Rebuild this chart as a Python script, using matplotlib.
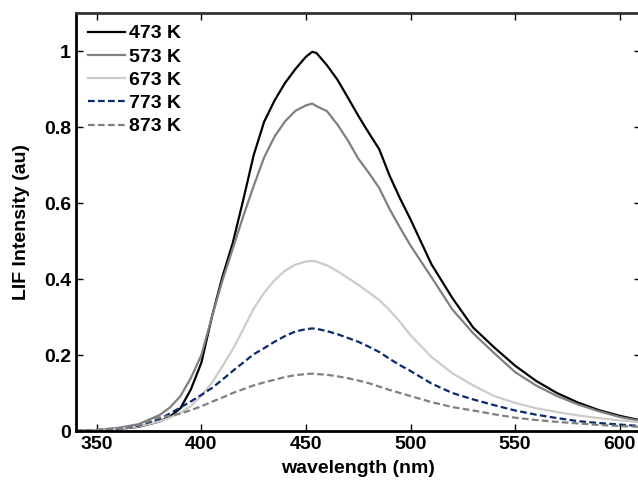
import numpy as np
import matplotlib.pyplot as plt

plt.rcParams['font.family'] = ['Liberation Sans', 'DejaVu Sans']
plt.rcParams['font.weight'] = 'bold'
plt.rcParams['font.size'] = 14

# wavelength grid (nm) and LIF spectra
wl = [340, 350, 360, 370, 380, 385, 390, 395, 400, 405, 410, 415, 420, 425, 430,
      435, 440, 445, 450, 453, 455, 460, 465, 470, 475, 480, 485, 490, 495, 500,
      510, 520, 530, 540, 550, 560, 570, 580, 590, 600, 610]

t473 = [0.0, 0.002, 0.005, 0.011, 0.025, 0.038, 0.06, 0.11, 0.18, 0.30, 0.405, 0.495, 0.608, 0.726, 0.814,
        0.87, 0.916, 0.953, 0.985, 0.998, 0.995, 0.963, 0.925, 0.878, 0.83, 0.785, 0.742, 0.672, 0.612, 0.557,
        0.439, 0.35, 0.272, 0.22, 0.172, 0.132, 0.1, 0.075, 0.055, 0.04, 0.028]
t573 = [0.0, 0.003, 0.008, 0.018, 0.042, 0.062, 0.092, 0.14, 0.20, 0.30, 0.395, 0.48, 0.565, 0.645, 0.72,
        0.775, 0.815, 0.843, 0.857, 0.862, 0.855, 0.842, 0.807, 0.765, 0.717, 0.68, 0.64, 0.584, 0.535, 0.488,
        0.405, 0.32, 0.257, 0.205, 0.155, 0.12, 0.092, 0.07, 0.052, 0.037, 0.026]
t673 = [0.0, 0.002, 0.005, 0.012, 0.025, 0.035, 0.048, 0.066, 0.093, 0.127, 0.17, 0.215, 0.268, 0.322, 0.364,
        0.397, 0.422, 0.438, 0.446, 0.448, 0.446, 0.436, 0.421, 0.403, 0.385, 0.365, 0.345, 0.318, 0.287, 0.252,
        0.195, 0.152, 0.12, 0.092, 0.074, 0.06, 0.05, 0.041, 0.034, 0.028, 0.023]
t773 = [0.0, 0.002, 0.006, 0.014, 0.032, 0.046, 0.062, 0.078, 0.095, 0.113, 0.135, 0.158, 0.18, 0.202, 0.218,
        0.235, 0.25, 0.262, 0.268, 0.27, 0.269, 0.263, 0.255, 0.245, 0.235, 0.222, 0.208, 0.19, 0.173, 0.158,
        0.125, 0.10, 0.083, 0.068, 0.054, 0.043, 0.034, 0.026, 0.021, 0.017, 0.013]
t873 = [0.0, 0.003, 0.007, 0.015, 0.036, 0.04, 0.046, 0.055, 0.065, 0.077, 0.088, 0.10, 0.11, 0.12, 0.128,
        0.135, 0.142, 0.147, 0.15, 0.151, 0.15, 0.148, 0.144, 0.139, 0.133, 0.126, 0.117, 0.108, 0.10, 0.092,
        0.076, 0.063, 0.054, 0.044, 0.035, 0.029, 0.024, 0.02, 0.016, 0.013, 0.011]

labels = ['473 K', '573 K', '673 K', '773 K', '873 K']

fig = plt.figure(figsize=(6.38, 4.84), dpi=100)
ax = fig.add_axes([0.119, 0.1095, 0.885, 0.8635])

ax.plot(wl, t473, color='black', lw=1.6, label=labels[0])
ax.plot(wl, t573, color='#808080', lw=1.6, label=labels[1])
ax.plot(wl, t673, color='#cccccc', lw=1.6, label=labels[2])
ax.plot(wl, t773, color='#0a2a6e', lw=1.6, ls=(0, (3, 1.5)), label=labels[3])
ax.plot(wl, t873, color='#808080', lw=1.6, ls=(0, (3, 1.5)), label=labels[4])

ax.set_xlim(340, 610)
ax.set_ylim(0, 1.1)
ax.set_xticks([350, 400, 450, 500, 550, 600])
ax.set_yticks([0, 0.2, 0.4, 0.6, 0.8, 1])
ax.set_yticklabels(['0', '0.2', '0.4', '0.6', '0.8', '1'])
ax.tick_params(direction='in', length=5, width=1, top=True, right=True, labelsize=14)
for s in ax.spines.values():
    s.set_linewidth(2)
ax.spines['top'].set_color('#333333')

ax.set_xlabel('wavelength (nm)', fontsize=14, fontweight='bold', labelpad=5)
ax.set_ylabel('LIF Intensity (au)', fontsize=14, fontweight='bold', labelpad=10)

ax.legend(loc='upper left', frameon=False, handlelength=1.9, handletextpad=0.25,
          labelspacing=0.29, borderaxespad=0.2, prop={'weight': 'bold', 'size': 14})

fig.savefig('out.png', dpi=100)
